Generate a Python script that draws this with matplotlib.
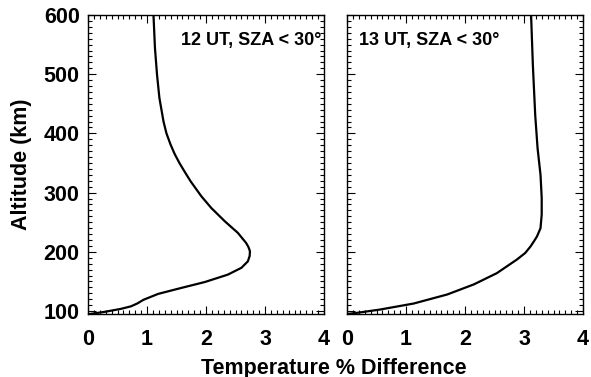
import matplotlib
matplotlib.use("Agg")
import matplotlib.pyplot as plt
from matplotlib.ticker import MultipleLocator

plt.rcParams['font.family'] = ['Liberation Sans', 'DejaVu Sans']
plt.rcParams['font.weight'] = 'bold'

# 12 UT profile (altitude km, temperature % difference)
alt_12 = [95, 98.6, 103.7, 108, 113, 119, 129, 139, 149, 161.5, 173, 184, 193,
          201, 208, 215, 232, 251.5, 274, 294, 319, 335, 350, 365, 381, 400,
          420, 460, 499, 544, 600]
dt_12 = [0.03, 0.28, 0.56, 0.73, 0.84, 0.94, 1.19, 1.58, 1.98, 2.37, 2.60, 2.71,
         2.74, 2.745, 2.72, 2.68, 2.54, 2.32, 2.09, 1.92, 1.74, 1.64, 1.55, 1.47,
         1.40, 1.33, 1.28, 1.21, 1.17, 1.135, 1.11]

# 13 UT profile
alt_13 = [95, 97, 102.5, 112.7, 128, 145, 164, 187, 198, 209, 218, 226, 240,
          263, 291, 330, 375, 431, 516, 600]
dt_13 = [0.0, 0.17, 0.56, 1.13, 1.70, 2.15, 2.54, 2.88, 3.02, 3.11, 3.17, 3.22,
         3.28, 3.30, 3.30, 3.28, 3.23, 3.19, 3.15, 3.12]

labels = ["12 UT, SZA < 30°", "13 UT, SZA < 30°"]
xticks = [0, 1, 2, 3, 4]
yticks = [100, 200, 300, 400, 500, 600]

fig = plt.figure(figsize=(5.91, 3.77), dpi=100)
ax1 = fig.add_axes([88/591, 1-314/377, 236/591, 299/377])
ax2 = fig.add_axes([347/591, 1-314/377, 236/591, 299/377])

for ax, x, y in [(ax1, dt_12, alt_12), (ax2, dt_13, alt_13)]:
    ax.plot(x, y, color='black', lw=1.6, solid_joinstyle='round')
    ax.set_xlim(0, 4)
    ax.set_ylim(95, 600)
    ax.set_xticks(xticks)
    ax.set_yticks(yticks)
    ax.xaxis.set_minor_locator(MultipleLocator(0.1))
    ax.yaxis.set_minor_locator(MultipleLocator(10))
    ax.tick_params(which='both', direction='in', top=True, right=True,
                   width=0.8, labelsize=15.5)
    ax.tick_params(which='major', length=6)
    ax.tick_params(which='minor', length=3)
    ax.tick_params(axis='x', pad=11)
    ax.tick_params(axis='y', pad=6)
    for s in ax.spines.values():
        s.set_linewidth(1.0)

ax2.set_yticklabels([])

ax1.text(0.99, 0.9, labels[0], transform=ax1.transAxes, ha='right',
         va='baseline', fontsize=13, fontweight='bold')
ax2.text(0.05, 0.9, labels[1], transform=ax2.transAxes, ha='left',
         va='baseline', fontsize=13, fontweight='bold')

fig.text(22/591, 1-164/377, "Altitude (km)", rotation=90, ha='center',
         va='center', fontsize=15.5, fontweight='bold')
fig.text(334/591, 1-374/377, "Temperature % Difference", ha='center',
         va='baseline', fontsize=15.5, fontweight='bold')

fig.savefig("out.png", dpi=100)
